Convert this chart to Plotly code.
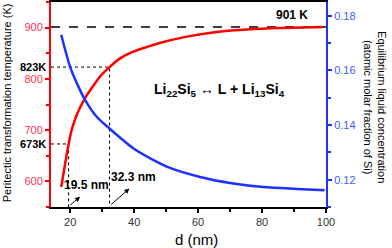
import plotly.graph_objects as go

# ---- data ----
d_T = [17.2, 18.3, 19.5, 20.5, 22.0, 24.5, 27.5, 29.8, 32.3, 35.6, 39.7, 44.9, 48.0, 55.3, 65.8, 76.2, 86.6, 99.0]
T_vals = [589, 630, 673, 701, 729, 761, 789, 808, 823, 840, 853, 864, 870, 881, 891.6, 897, 899.4, 901]

d_c = [17.2, 20.0, 22.4, 24.5, 28.3, 32.2, 39.7, 44.9, 51.2, 60.6, 70.0, 80.4, 90.8, 99.6]
c_vals = [0.1730, 0.1612, 0.1545, 0.1495, 0.1430, 0.1388, 0.1315, 0.1279, 0.1243, 0.1210, 0.1188, 0.1173, 0.1166, 0.1161]

T_bulk = 901
d_marks = [19.5, 32.3]
T_marks = [673, 823]
x_range = [14, 100]
T_range = [550, 950]
c_range = [0.11, 0.185]

FONT = "Arial, Liberation Sans, DejaVu Sans, sans-serif"
RED = "#ff0000"
BLUE = "#1e32ff"
RED_TXT = "#ff3355"
BLUE_TXT = "#4058ff"

fig = go.Figure()

# bulk peritectic temperature (dashed)
fig.add_trace(go.Scatter(x=x_range, y=[T_bulk, T_bulk], mode="lines",
                         line=dict(color="black", width=1.5, dash="dash"), yaxis="y"))

# dotted guide lines
for dm, tm in zip(d_marks, T_marks):
    fig.add_trace(go.Scatter(x=[x_range[0], dm, dm], y=[tm, tm, T_range[0]], mode="lines",
                             line=dict(color="black", width=1, dash="dot"), yaxis="y"))

fig.add_trace(go.Scatter(x=d_T, y=T_vals, mode="lines", line=dict(color=RED, width=2.5, shape="spline", smoothing=0.8),
                         yaxis="y"))
fig.add_trace(go.Scatter(x=d_c, y=c_vals, mode="lines", line=dict(color=BLUE, width=2.5, shape="spline", smoothing=0.8),
                         yaxis="y2"))

ann = []
bold = dict(family=FONT, size=11, color="black")
for dm, tm in zip(d_marks, T_marks):
    ann.append(dict(x=0, xref="paper", y=tm, yref="y", text=f"<b>{tm}K</b>", showarrow=False,
                    xanchor="right", xshift=-3, yanchor="middle", font=bold))
ann.append(dict(x=0.876, xref="paper", y=T_bulk, yref="y", text=f"<b>{T_bulk} K</b>", showarrow=False,
                xanchor="center", yanchor="bottom", yshift=3, font=dict(family=FONT, size=12, color="black")))
# nm labels with arrows
ann.append(dict(x=d_marks[0] + 3.6, y=T_range[0] + 20, xref="x", yref="y", ax=d_marks[0], ay=T_range[0] + 1,
                axref="x", ayref="y", text="", showarrow=True, arrowhead=2, arrowsize=1, arrowwidth=1, arrowcolor="black"))
ann.append(dict(x=d_marks[1] + 6.2, y=T_range[0] + 36, xref="x", yref="y", ax=d_marks[1], ay=T_range[0] + 2,
                axref="x", ayref="y", text="", showarrow=True, arrowhead=2, arrowsize=1, arrowwidth=1, arrowcolor="black"))
ann.append(dict(x=d_marks[0] - 2.2, y=T_range[0] + 42, xref="x", yref="y", text=f"<b>{d_marks[0]} nm</b>",
                showarrow=False, xanchor="left", yanchor="middle", font=dict(family=FONT, size=12, color="black")))
ann.append(dict(x=d_marks[1] - 0.3, y=T_range[0] + 58, xref="x", yref="y", text=f"<b>{d_marks[1]} nm</b>",
                showarrow=False, xanchor="left", yanchor="middle", font=dict(family=FONT, size=12, color="black")))
ann.append(dict(x=66.8, y=779, xref="x", yref="y",
                text="<b>Li<sub>22</sub>Si<sub>5</sub> ↔ L + Li<sub>13</sub>Si<sub>4</sub></b>",
                showarrow=False, xanchor="center", yanchor="middle", font=dict(family=FONT, size=14, color="black")))
# axis titles
ann.append(dict(x=-0.157, xref="paper", y=0.51, yref="paper", text="Peritectic transformation temperature (K)",
                textangle=-90, showarrow=False, xanchor="center", yanchor="middle",
                font=dict(family=FONT, size=11, color="black")))
ann.append(dict(x=1.18, xref="paper", y=0.49, yref="paper",
                text="Equilibrium liquid concentration<br>(atomic molar fraction of Si)",
                textangle=90, showarrow=False, xanchor="center", yanchor="middle",
                font=dict(family=FONT, size=11, color="black")))
ann.append(dict(x=0.53, xref="paper", y=-0.16, yref="paper", text="d (nm)", showarrow=False,
                xanchor="center", yanchor="middle", font=dict(family=FONT, size=15, color="black")))

fig.update_layout(
    width=392, height=248,
    margin=dict(l=51, r=66, t=2, b=41, autoexpand=False),
    paper_bgcolor="white", plot_bgcolor="white",
    showlegend=False,
    font=dict(family=FONT, size=11),
    xaxis=dict(range=x_range, tickvals=[20, 40, 60, 80, 100], ticks="outside", ticklen=4, tickwidth=1.5,
               tickcolor="black", showline=True, linecolor="black", linewidth=1.5, mirror=True,
               showgrid=False, zeroline=False, tickfont=dict(size=11, color="#333333"),
               minor=dict(dtick=10, tick0=0, ticks="outside", ticklen=3, tickcolor="black")),
    yaxis=dict(range=T_range, dtick=100, tick0=0, ticks="outside", ticklen=4, tickwidth=1.5, tickcolor=RED,
               showline=True, linecolor=RED, linewidth=2, showgrid=False, zeroline=False,
               tickfont=dict(size=11, color=RED_TXT),
               minor=dict(dtick=50, tick0=0, ticks="outside", ticklen=3, tickcolor=RED)),
    yaxis2=dict(range=c_range, dtick=0.02, tick0=0, overlaying="y", side="right", ticks="outside", ticklen=4,
                tickwidth=1.5, tickcolor=BLUE, showline=True, linecolor=BLUE, linewidth=2, showgrid=False,
                zeroline=False, tickformat=".2f", tickfont=dict(size=11, color=BLUE_TXT),
                minor=dict(dtick=0.01, tick0=0, ticks="outside", ticklen=3, tickcolor=BLUE)),
    annotations=ann,
)

fig.write_html("out.html", config={"displayModeBar": False},
               post_script="document.body.style.margin='0';document.body.style.overflow='hidden';")
